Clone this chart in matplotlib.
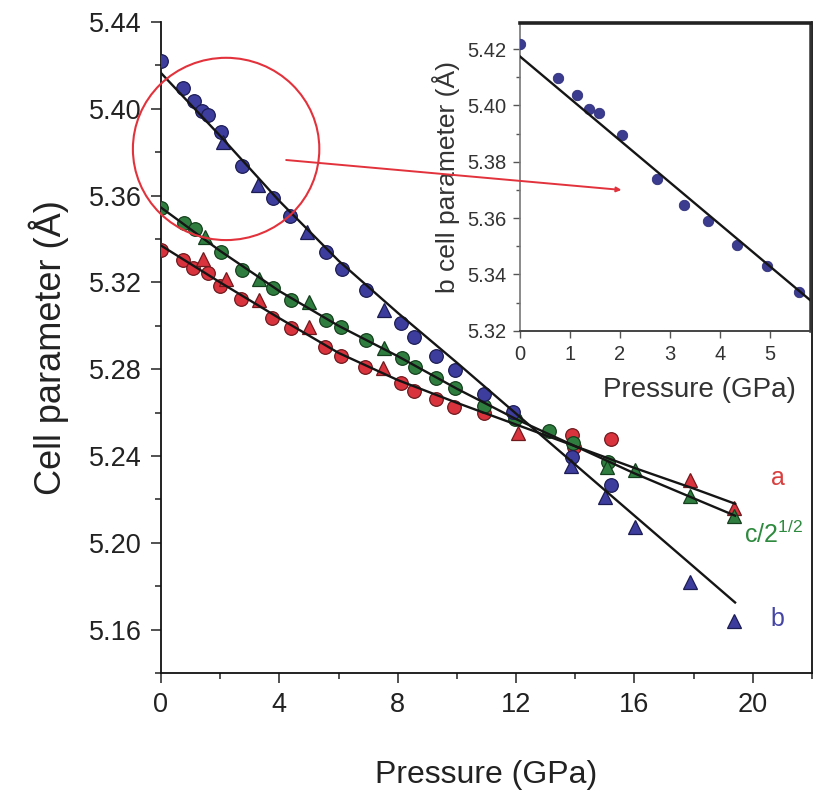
import matplotlib
matplotlib.use('Agg')
import matplotlib.pyplot as plt
from matplotlib.patches import Ellipse, ConnectionPatch
from matplotlib.ticker import MultipleLocator, FormatStrFormatter

plt.rcParams['font.family'] = ['Liberation Sans', 'DejaVu Sans']
plt.rcParams['mathtext.fontset'] = 'custom'
plt.rcParams['mathtext.rm'] = 'Liberation Sans'

# ---------------- data ----------------
# b parameter
b_circ_P = [0, 0.75, 1.13, 1.39, 1.59, 2.03, 2.73, 3.77, 4.35, 5.59, 6.12, 6.92,
            8.12, 8.56, 9.28, 9.92, 10.93, 11.9, 13.9, 15.2]
b_circ_v = [5.4220, 5.4098, 5.4038, 5.3989, 5.3972, 5.3895, 5.3738, 5.3588, 5.3504,
            5.3339, 5.3260, 5.3165, 5.3014, 5.2950, 5.2861, 5.2796, 5.2686, 5.2604,
            5.2397, 5.2266]
b_tri_P = [2.08, 3.28, 4.95, 7.52, 13.86, 15.02, 16.02, 17.87, 19.38]
b_tri_v = [5.3848, 5.3647, 5.3430, 5.3073, 5.2354, 5.2212, 5.2074, 5.1821, 5.1640]

# c / sqrt(2)
c_circ_P = [0, 0.78, 1.15, 2.03, 2.73, 3.78, 4.4, 5.58, 6.08, 6.92, 8.14, 8.58,
            9.28, 9.94, 10.93, 11.95, 13.1, 13.92, 15.12]
c_circ_v = [5.3541, 5.3475, 5.3445, 5.3338, 5.3257, 5.3173, 5.3119, 5.3027, 5.2993,
            5.2935, 5.2852, 5.2812, 5.2758, 5.2712, 5.2630, 5.2570, 5.2516, 5.2458,
            5.2374]
c_tri_P = [1.5, 3.3, 4.99, 7.52, 15.06, 16.02, 17.87, 19.38]
c_tri_v = [5.3411, 5.3214, 5.3111, 5.2896, 5.2348, 5.2335, 5.2216, 5.2124]

# a parameter
a_circ_P = [0, 0.75, 1.09, 1.59, 1.99, 2.72, 3.76, 4.4, 5.55, 6.08, 6.9, 8.1,
            8.55, 9.28, 9.9, 10.93, 13.9, 13.95, 15.2]
a_circ_v = [5.3349, 5.3301, 5.3265, 5.3245, 5.3183, 5.3125, 5.3037, 5.2992, 5.2902,
            5.2861, 5.2812, 5.2738, 5.2701, 5.2661, 5.2627, 5.2597, 5.2497, 5.2440,
            5.2477]
a_tri_P = [1.43, 2.19, 3.31, 4.99, 7.49, 12.08, 17.87, 19.38]
a_tri_v = [5.3306, 5.3214, 5.3121, 5.2996, 5.2804, 5.2507, 5.2289, 5.2162]

# fitted curves (nodes)
fit_P = [0, 2, 4, 6, 8, 10, 12, 14, 16, 18, 19.4]
fit_a = [5.3370, 5.3200, 5.3035, 5.2875, 5.2750, 5.2645, 5.2545, 5.2445, 5.2345, 5.2250, 5.2180]
fit_c = [5.3545, 5.3345, 5.3160, 5.3000, 5.2860, 5.2710, 5.2570, 5.2445, 5.2320, 5.2205, 5.2125]
fit_b = [5.4165, 5.3875, 5.3575, 5.3300, 5.3060, 5.2830, 5.2595, 5.2360, 5.2125, 5.1890, 5.1725]

# inset data
in_P = [0, 0.753, 1.133, 1.387, 1.587, 2.033, 2.733, 3.28, 3.767, 4.347, 4.947, 5.587]
in_b = [5.4218, 5.4098, 5.4038, 5.3989, 5.3972, 5.3895, 5.3738, 5.3647, 5.3588,
        5.3504, 5.3430, 5.3339]
in_fit_P = [0, 5.8]
in_fit_b = [5.4174, 5.3309]

main_xticks = [0, 4, 8, 12, 16, 20]
inset_xticks = [0, 1, 2, 3, 4, 5]

# ---------------- styling ----------------
BLUE, BLUE_E = '#3d3d9e', '#1c1c55'
RED, RED_E = '#d9333d', '#701a1e'
GREEN, GREEN_E = '#2f7e40', '#15401d'
LINE = '#151515'
ARROW_RED = '#e2323c'

W, H = 817, 797
fig = plt.figure(figsize=(W / 100, H / 100), dpi=100)

L, R, T, B = 161, 812, 22, 673
ax = fig.add_axes([L / W, (H - B) / H, (R - L) / W, (B - T) / H])
ax.set_xlim(0, 22)
ax.set_ylim(5.14, 5.44)

ms = 9.8
def pts(P, v, marker, fc, ec):
    ax.plot(P, v, linestyle='none', marker=marker, ms=ms, mfc=fc, mec=ec, mew=0.9,
            zorder=3)

pts(a_circ_P, a_circ_v, 'o', RED, RED_E)
pts(a_tri_P, a_tri_v, '^', RED, RED_E)
pts(c_circ_P, c_circ_v, 'o', GREEN, GREEN_E)
pts(c_tri_P, c_tri_v, '^', GREEN, GREEN_E)
pts(b_circ_P, b_circ_v, 'o', BLUE, BLUE_E)
pts(b_tri_P, b_tri_v, '^', BLUE, BLUE_E)

for fv in (fit_a, fit_c, fit_b):
    ax.plot(fit_P, fv, color=LINE, lw=1.7, zorder=4)

ax.spines['top'].set_visible(False)
for s in ('left', 'bottom', 'right'):
    ax.spines[s].set_linewidth(1.3)
    ax.spines[s].set_color('#111111')

ax.set_xticks(main_xticks)
ax.xaxis.set_minor_locator(MultipleLocator(2))
ax.yaxis.set_major_locator(MultipleLocator(0.04))
ax.yaxis.set_minor_locator(MultipleLocator(0.02))
ax.yaxis.set_major_formatter(FormatStrFormatter('%.2f'))
ax.tick_params(which='both', direction='out', width=1.1, colors='#222222',
               labelcolor='#222222', labelsize=19.5)
ax.tick_params(which='major', length=7, pad=7)
ax.tick_params(which='minor', length=4)
ax.tick_params(axis='y', right=False)

ax.set_xlabel('Pressure (GPa)', fontsize=23, color='#222222', labelpad=30)
ax.set_ylabel('Cell parameter (Å)', fontsize=26, color='#222222', labelpad=14)

ax.text(20.6, 5.2299, 'a', color='#d8403f', fontsize=18, ha='left', va='center')
ax.text(19.7, 5.2040, r'c/2$^{\mathregular{1/2}}$', color='#2e8a3e', fontsize=18,
        ha='left', va='center')
ax.text(20.6, 5.1650, 'b', color='#4545a5', fontsize=18, ha='left', va='center')

ell = Ellipse((2.2, 5.3815), width=6.3, height=0.084, fill=False,
              edgecolor=ARROW_RED, lw=1.5, clip_on=False, zorder=5)
ax.add_patch(ell)

# ---------------- inset ----------------
iL, iR, iT, iB = 520, 810, 22.7, 330.7
axi = fig.add_axes([iL / W, (H - iB) / H, (iR - iL) / W, (iB - iT) / H])
axi.set_xlim(0, 5.8)
axi.set_ylim(5.32, 5.4294)
axi.plot(in_P, in_b, linestyle='none', marker='o', ms=7.5, mfc='#3b3b90',
         mec='#30307a', mew=0.6, zorder=3)
axi.plot(in_fit_P, in_fit_b, color=LINE, lw=1.7, zorder=4)
axi.set_xticks(inset_xticks)
axi.yaxis.set_major_locator(MultipleLocator(0.02))
axi.yaxis.set_minor_locator(MultipleLocator(0.01))
axi.yaxis.set_major_formatter(FormatStrFormatter('%.2f'))
axi.tick_params(which='both', direction='out', width=1.0, colors='#555555',
                labelcolor='#333333', labelsize=14.5)
axi.tick_params(which='major', length=5, pad=5)
axi.tick_params(which='minor', length=3)
axi.spines['top'].set_linewidth(2.6)
axi.spines['top'].set_color('#222222')
axi.spines['right'].set_linewidth(1.8)
axi.spines['right'].set_color('#333333')
axi.spines['left'].set_linewidth(1.2)
axi.spines['left'].set_color('#777777')
axi.spines['bottom'].set_linewidth(1.4)
axi.spines['bottom'].set_color('#444444')
axi.set_xlabel('Pressure (GPa)', fontsize=20, color='#333333')
axi.xaxis.set_label_coords(0.62, -0.15)
axi.set_ylabel('b cell parameter (Å)', fontsize=19, color='#333333', labelpad=5)

# arrow from the circle to the inset
con = ConnectionPatch(xyA=(4.23, 5.3764), coordsA=ax.transData,
                      xyB=(15.56, 5.3626), coordsB=ax.transData,
                      arrowstyle='-|>', mutation_scale=7, color=ARROW_RED, lw=1.4,
                      zorder=10)
fig.add_artist(con)

fig.savefig('out.png', dpi=100)
